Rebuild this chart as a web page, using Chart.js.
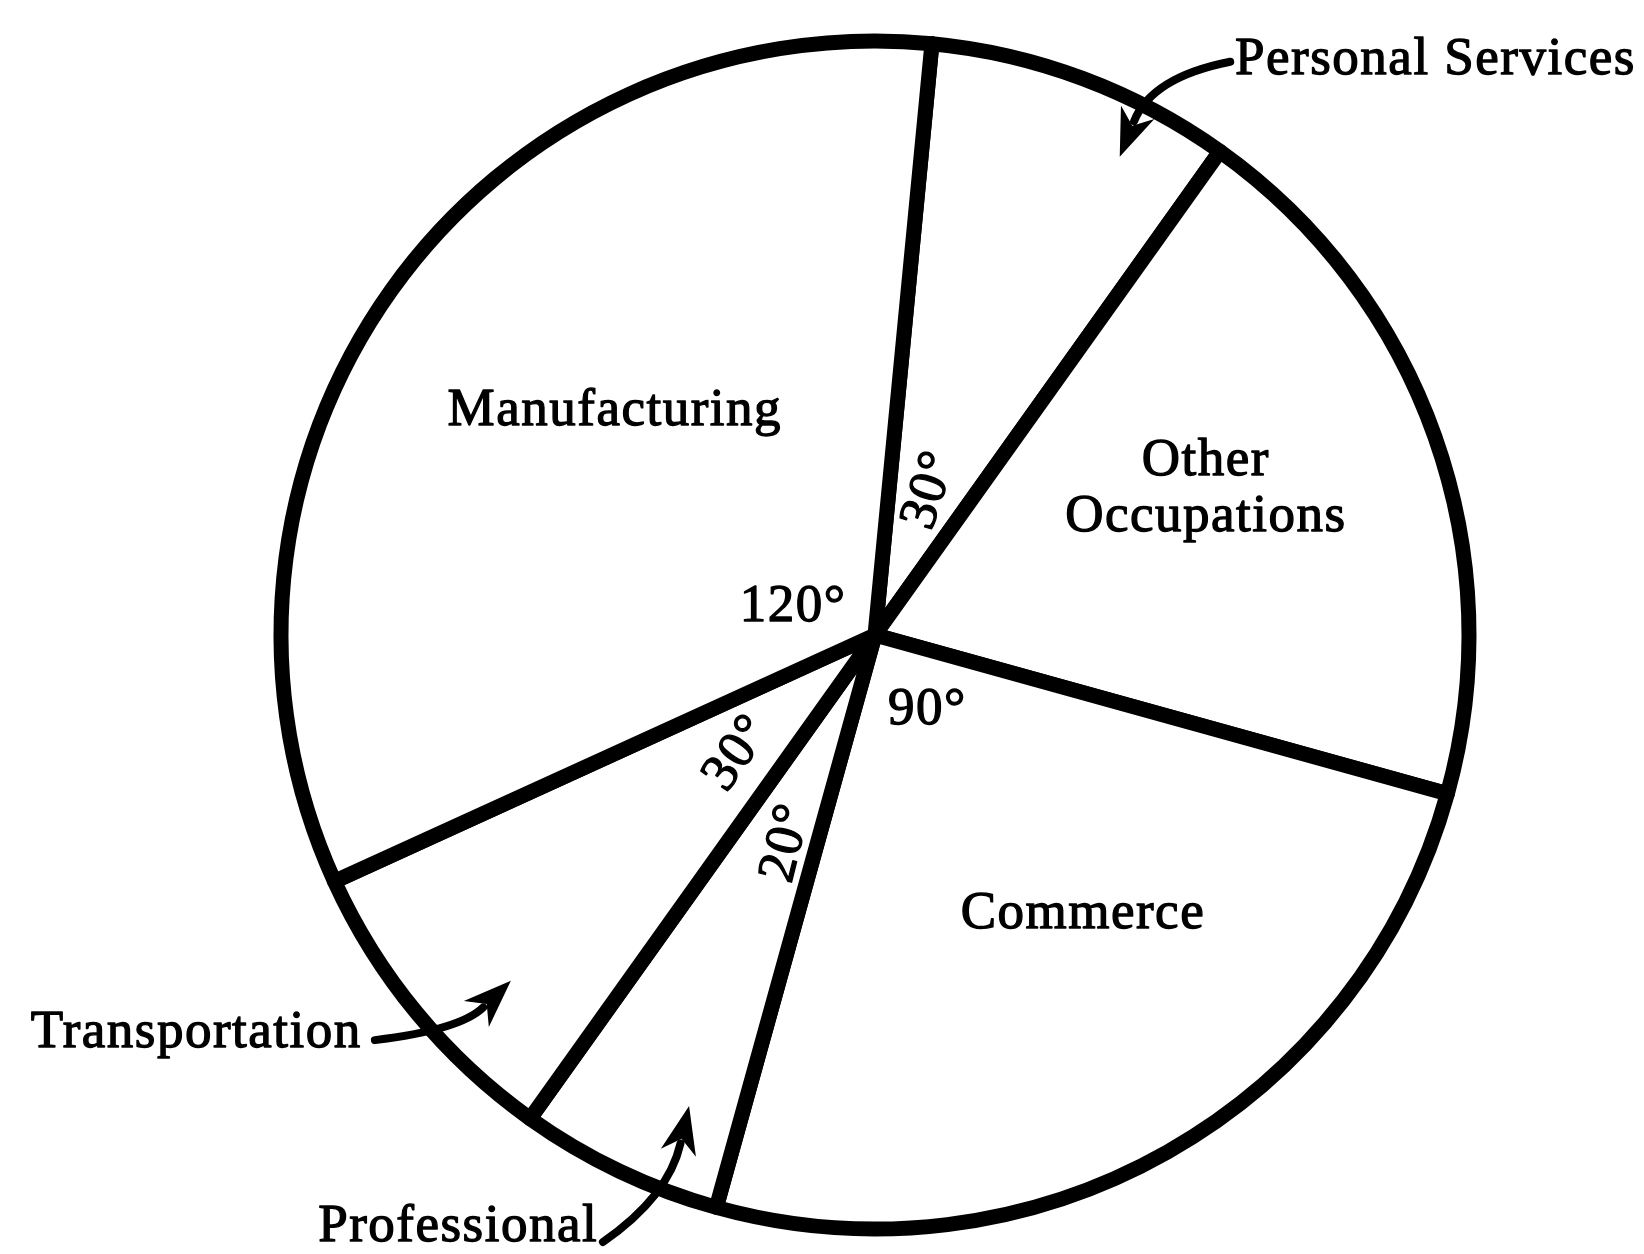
<!DOCTYPE html>
<html><head><meta charset="utf-8">
<script src="https://cdn.jsdelivr.net/npm/chart.js@4.4.1/dist/chart.umd.min.js"></script>
<style>html,body{margin:0;padding:0;background:#fff}#wrap{width:1644px;height:1254px;position:relative}</style>
</head><body><div id="wrap"><canvas id="c"></canvas></div>
<script>
// ---- data ----
const categories = ['Personal Services', 'Other Occupations', 'Commerce', 'Professional', 'Transportation', 'Manufacturing'];
const degrees = [30, 70, 90, 20, 30, 120];
const angleLabels = ['30°', '', '90°', '20°', '30°', '120°'];

// ---- label layout (relative to pie centre, in units of the pie radius) ----
const nameLayout = {
  'Manufacturing':     {lines: ['Manufacturing'], fx: -0.438, fy: -0.377, align: 'center'},
  'Other Occupations': {lines: ['Other', 'Occupations'], fx: 0.557, fy: -0.246, align: 'center'},
  'Commerce':          {lines: ['Commerce'], fx: 0.350, fy: 0.470, align: 'center'},
  'Personal Services': {lines: ['Personal Services'], fx: 1.281, fy: -0.968, align: 'right'},
  'Transportation':    {lines: ['Transportation'], fx: -0.864, fy: 0.670, align: 'right'},
  'Professional':      {lines: ['Professional'], fx: -0.466, fy: 0.997, align: 'right'}
};
const angleLayout = [
  {fx: 0.093, fy: -0.244, rot: -72},
  null,
  {fx: 0.088, fy: 0.126, rot: 0},
  {fx: -0.148, fy: 0.350, rot: -76},
  {fx: -0.231, fy: 0.199, rot: -55},
  {fx: -0.138, fy: -0.047, rot: 0}
];
const arrowLayout = {
  'Personal Services': [[0.598, -0.965], [0.466, -0.939], [0.412, -0.805]],
  'Transportation':    [[-0.842, 0.682], [-0.699, 0.665], [-0.613, 0.582]],
  'Professional':      [[-0.458, 1.022], [-0.348, 0.946], [-0.313, 0.793]]
};

const labelPlugin = {
  id: 'labels',
  afterDraw(chart) {
    const ctx = chart.ctx;
    const arc = chart.getDatasetMeta(0).data[0];
    const cx = arc.x, cy = arc.y, R = arc.outerRadius;
    const P = (fx, fy) => [cx + fx * R, cy + fy * R];
    ctx.save();
    ctx.fillStyle = '#000';
    ctx.strokeStyle = '#000';
    ctx.lineWidth = 1.3;
    ctx.lineJoin = 'round';
    ctx.font = '53px "Liberation Serif", "Times New Roman", serif';
    try { ctx.letterSpacing = '1.5px'; } catch (e) {}
    ctx.textBaseline = 'middle';
    const txt = (t, x, y) => { ctx.fillText(t, x, y); ctx.strokeText(t, x, y); };
    // category names
    categories.forEach(name => {
      const L = nameLayout[name];
      const [x, y] = P(L.fx, L.fy);
      ctx.textAlign = L.align;
      const lh = 56;
      const y0 = y - (L.lines.length - 1) * lh / 2;
      L.lines.forEach((t, i) => txt(t, x, y0 + i * lh));
    });
    // angle labels
    angleLabels.forEach((t, i) => {
      const L = angleLayout[i];
      if (!t || !L) return;
      const [x, y] = P(L.fx, L.fy);
      ctx.save();
      ctx.translate(x, y);
      ctx.rotate(L.rot * Math.PI / 180);
      ctx.textAlign = 'center';
      txt(t, 0, 0);
      ctx.restore();
    });
    // arrows
    ctx.lineWidth = 8;
    ctx.lineCap = 'round';
    Object.keys(arrowLayout).forEach(k => {
      const [a, b, c] = arrowLayout[k].map(p => P(p[0], p[1]));
      const ang = Math.atan2(c[1] - b[1], c[0] - b[0]);
      const hl = 48, hw = 18;
      const base = [c[0] - Math.cos(ang) * hl * 0.8, c[1] - Math.sin(ang) * hl * 0.8];
      ctx.beginPath();
      ctx.moveTo(a[0], a[1]);
      ctx.quadraticCurveTo(b[0], b[1], base[0], base[1]);
      ctx.stroke();
      ctx.beginPath();
      ctx.moveTo(c[0], c[1]);
      ctx.lineTo(c[0] - Math.cos(ang) * hl - Math.sin(ang) * hw, c[1] - Math.sin(ang) * hl + Math.cos(ang) * hw);
      ctx.lineTo(c[0] - Math.cos(ang) * hl * 0.7, c[1] - Math.sin(ang) * hl * 0.7);
      ctx.lineTo(c[0] - Math.cos(ang) * hl + Math.sin(ang) * hw, c[1] - Math.sin(ang) * hl - Math.cos(ang) * hw);
      ctx.closePath();
      ctx.fill();
    });
    ctx.restore();
  }
};

new Chart(document.getElementById('c'), {
  type: 'pie',
  data: {
    labels: categories,
    datasets: [{
      data: degrees,
      backgroundColor: '#ffffff',
      borderColor: '#000000',
      borderWidth: 15,
      borderAlign: 'center',
      borderJoinStyle: 'round',
      hoverOffset: 0,
      offset: 0
    }]
  },
  options: {
    responsive: true,
    maintainAspectRatio: false,
    animation: false,
    rotation: 5.5,
    layout: {padding: {left: 150, right: 44, top: 33.5, bottom: 17.5}},
    plugins: {legend: {display: false}, tooltip: {enabled: false}},
    events: []
  },
  plugins: [labelPlugin]
});
</script>
</body></html>
